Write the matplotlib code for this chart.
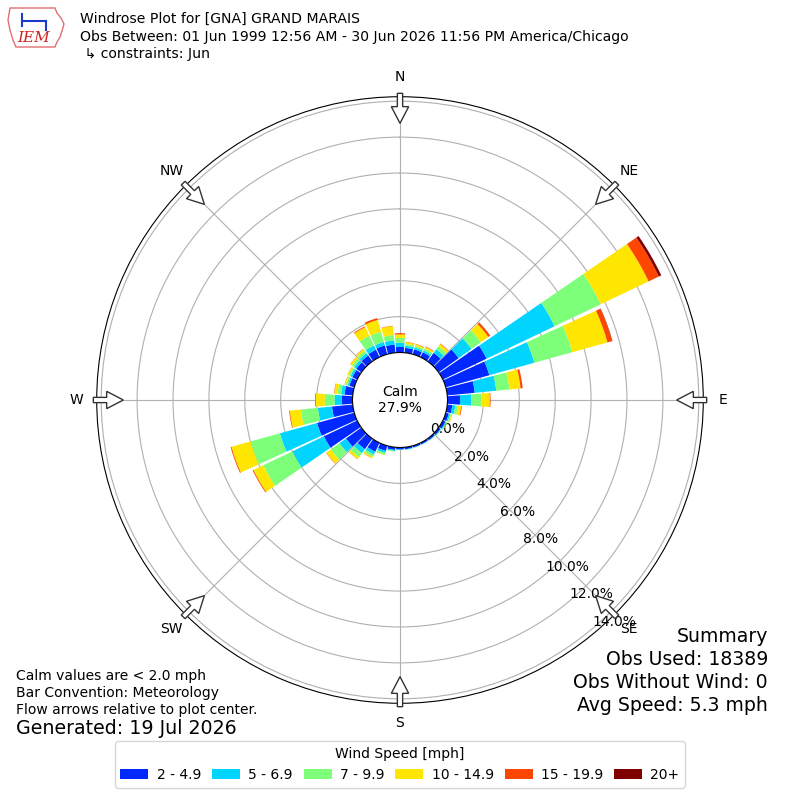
import numpy as np
import matplotlib.pyplot as plt
from matplotlib.patches import FancyArrow, Patch, Polygon

# direction bins (degrees, meteorological), 10 degree wide
directions = np.arange(0, 360, 10)
speed_labels = ["2 - 4.9", "5 - 6.9", "7 - 9.9", "10 - 14.9", "15 - 19.9", "20+"]
speed_colors = ["#0028ff", "#00d4ff", "#7dff7a", "#ffe600", "#ff4600", "#800000"]

# frequency [%] per direction for each speed bin
spd_2_5 = [0.31, 0.27, 0.28, 0.30, 0.58, 1.37, 2.70, 2.52, 1.54, 0.70, 0.28, 0.18,
           0.16, 0.13, 0.11, 0.10, 0.10, 0.11, 0.11, 0.15, 0.30, 0.55, 0.72, 1.05,
           2.05, 2.15, 1.16, 0.60, 0.46, 0.28, 0.30, 0.35, 0.40, 0.46, 0.51, 0.46]
spd_5_7 = [0.24, 0.12, 0.11, 0.12, 0.25, 0.88, 4.20, 2.60, 1.20, 0.62, 0.17, 0.08,
           0.06, 0.04, 0.03, 0.02, 0.02, 0.03, 0.03, 0.06, 0.12, 0.17, 0.27, 0.45,
           1.95, 2.15, 0.79, 0.40, 0.19, 0.10, 0.12, 0.15, 0.16, 0.26, 0.20, 0.23]
spd_7_10 = [0.27, 0.10, 0.10, 0.12, 0.20, 0.65, 2.85, 2.20, 0.74, 0.58, 0.15, 0.06,
            0.04, 0.02, 0.01, 0.01, 0.01, 0.01, 0.01, 0.03, 0.10, 0.15, 0.28, 0.60,
            1.80, 1.70, 0.95, 0.55, 0.20, 0.10, 0.10, 0.15, 0.17, 0.60, 0.59, 0.30]
spd_10_15 = [0.19, 0.10, 0.09, 0.10, 0.16, 0.50, 2.95, 2.03, 0.62, 0.46, 0.18, 0.05,
             0.03, 0.01, 0.00, 0.00, 0.00, 0.00, 0.00, 0.01, 0.03, 0.08, 0.14, 0.30,
             0.60, 1.10, 0.62, 0.50, 0.18, 0.07, 0.08, 0.12, 0.11, 0.53, 0.69, 0.50]
spd_15_20 = [0.07, 0.02, 0.02, 0.03, 0.03, 0.12, 0.63, 0.27, 0.12, 0.04, 0.04, 0.01,
             0.00, 0.00, 0.00, 0.00, 0.00, 0.00, 0.00, 0.00, 0.00, 0.01, 0.01, 0.02,
             0.05, 0.05, 0.04, 0.04, 0.02, 0.01, 0.01, 0.01, 0.02, 0.05, 0.10, 0.02]
spd_20p = [0.00, 0.00, 0.00, 0.00, 0.00, 0.01, 0.15, 0.02, 0.00, 0.00, 0.00, 0.00,
           0.00, 0.00, 0.00, 0.00, 0.00, 0.00, 0.00, 0.00, 0.00, 0.00, 0.00, 0.00,
           0.00, 0.00, 0.00, 0.00, 0.00, 0.00, 0.00, 0.00, 0.00, 0.00, 0.00, 0.00]
speed_bins = [spd_2_5, spd_5_7, spd_7_10, spd_10_15, spd_15_20, spd_20p]

calm_pct = 27.9
r_ticks = np.arange(0, 15, 2)
compass = ["N", "NE", "E", "SE", "S", "SW", "W", "NW"]

fig = plt.figure(figsize=(8, 8), dpi=100)
ax = fig.add_axes([0.1209, 0.1209, 0.7582, 0.7582], projection="polar")
ax.set_theta_zero_location("N")
ax.set_theta_direction(-1)
ax.set_rorigin(-2.645)
ax.set_ylim(0, 14.25)

# stacked bars
theta = np.deg2rad(directions)
width = np.deg2rad(10) * 0.9
bottom = np.zeros(len(directions))
for vals, col, lab in zip(speed_bins, speed_colors, speed_labels):
    vals = np.array(vals)
    ax.bar(theta, vals, width=width, bottom=bottom, color=col,
           linewidth=0, label=lab, zorder=2)
    bottom += vals

ax.set_rticks(r_ticks)
ax.set_yticklabels([f"{v:.1f}%" for v in r_ticks], fontsize=10)
ax.set_rlabel_position(140)
ax.set_thetagrids(range(0, 360, 45), compass, fontsize=10)
ax.tick_params(axis="x", pad=4)
ax.grid(True, zorder=1)

# flow arrows at the edge, pointing to the center
for ang in range(0, 360, 45):
    a = np.deg2rad(ang)
    r0 = 0.5056
    x0 = 0.5 + r0 * np.sin(a)
    y0 = 0.5 + r0 * np.cos(a)
    L = 0.0495
    arr = FancyArrow(x0, y0, -L * np.sin(a), -L * np.cos(a), width=0.0087,
                     head_width=0.0285, head_length=0.0275,
                     length_includes_head=True, transform=ax.transAxes,
                     facecolor="white", edgecolor="#333333", lw=1,
                     clip_on=False, zorder=10)
    ax.add_patch(arr)

fig.text(0.5, 0.5, f"Calm\n{calm_pct:.1f}%", ha="center", va="center",
         fontsize=10, zorder=20)

# header
fig.text(80 / 800, 1 - 19 / 800, "Windrose Plot for [GNA] GRAND MARAIS",
         fontsize=10.1, va="center")
fig.text(80 / 800, 1 - 37 / 800,
         "Obs Between: 01 Jun 1999 12:56 AM - 30 Jun 2026 11:56 PM America/Chicago",
         fontsize=10.1, va="center")
fig.text(80 / 800, 1 - 54 / 800, " \u21b3 constraints: Jun", fontsize=10.1, va="center")

# rough IEM logo
iowa = [(10, 8), (55, 8), (57, 13), (61, 18), (64, 24), (62, 31), (60, 37),
        (57, 42), (55, 47), (16, 47), (13, 40), (10, 30), (8, 20), (10, 8)]
fig.patches.append(Polygon([(x / 800, 1 - y / 800) for x, y in iowa], closed=True,
                           fill=False, edgecolor="#e07070", lw=1,
                           transform=fig.transFigure))
fig.lines.append(plt.Line2D([22 / 800, 22 / 800], [1 - 14 / 800, 1 - 26 / 800],
                            color="#1a3cc8", lw=1.5, transform=fig.transFigure))
fig.lines.append(plt.Line2D([22 / 800, 46 / 800], [1 - 21 / 800, 1 - 21 / 800],
                            color="#1a3cc8", lw=1.5, transform=fig.transFigure))
fig.lines.append(plt.Line2D([46 / 800, 46 / 800], [1 - 21 / 800, 1 - 30 / 800],
                            color="#1a3cc8", lw=1.5, transform=fig.transFigure))
fig.text(34 / 800, 1 - 38 / 800, "IEM", color="#d42020", fontsize=11,
         style="italic", family="DejaVu Serif", ha="center", va="center")

# footer notes
fig.text(16 / 800, 1 - 676 / 800, "Calm values are < 2.0 mph", fontsize=10, va="center")
fig.text(16 / 800, 1 - 693 / 800, "Bar Convention: Meteorology", fontsize=10, va="center")
fig.text(16 / 800, 1 - 710 / 800, "Flow arrows relative to plot center.",
         fontsize=10, va="center")
fig.text(16 / 800, 1 - 728 / 800, "Generated: 19 Jul 2026", fontsize=13.7, va="center")

summary = ["Summary", "Obs Used: 18389", "Obs Without Wind: 0", "Avg Speed: 5.3 mph"]
for i, line in enumerate(summary):
    fig.text(768 / 800, 1 - (636 + 23.3 * i) / 800, line, fontsize=13.6,
             ha="right", va="center")

handles = [Patch(facecolor=c, label=l) for c, l in zip(speed_colors, speed_labels)]
fig.legend(handles=handles, loc="center", bbox_to_anchor=(0.5, 1 - 764.5 / 800),
           ncol=6, title="Wind Speed [mph]", fontsize=10, title_fontsize=10,
           columnspacing=0.8, handletextpad=0.6)

fig.savefig("out.png", dpi=100)
